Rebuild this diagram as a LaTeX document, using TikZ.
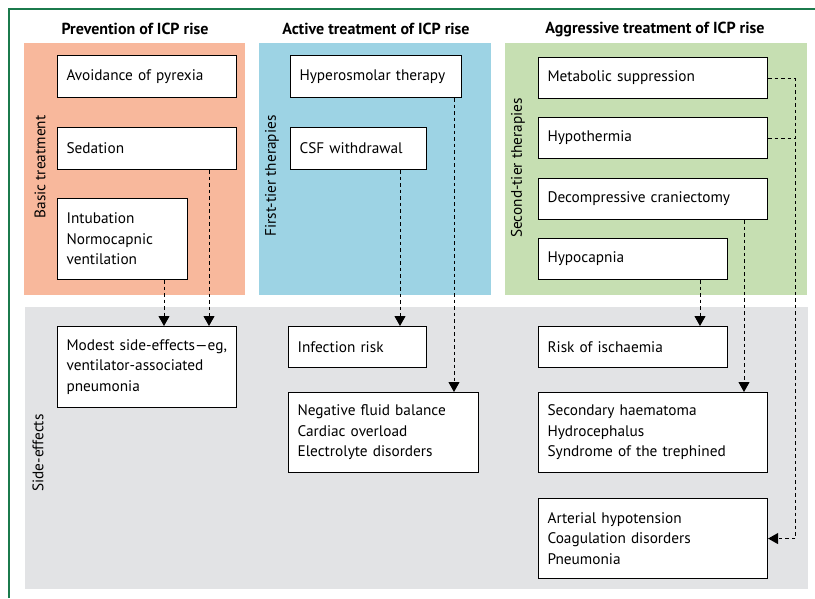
\documentclass[tikz,border=0pt]{standalone}
\usepackage{fontspec}
\setmainfont{PT Sans}
\usepackage{tikz}
\usetikzlibrary{arrows.meta, calc}

\definecolor{prevcol}{HTML}{F8B89C}
\definecolor{activecol}{HTML}{9DD3E4}
\definecolor{aggrcol}{HTML}{C6DFB2}
\definecolor{sidecol}{HTML}{E2E3E5}
\definecolor{framecol}{HTML}{1B7A4C}

\begin{document}
\begin{tikzpicture}[x=1pt, y=-1pt,
    box/.style={draw, fill=white, line width=1.1pt, anchor=north west, align=left,
                inner xsep=9pt, inner ysep=0pt,
                font=\fontsize{15.3}{20.5}\selectfont},
    title/.style={font=\bfseries\fontsize{16}{18}\selectfont},
    side/.style={rotate=90, font=\fontsize{15.3}{17}\selectfont},
    arr/.style={line width=1pt, dash pattern=on 3.5pt off 3pt,
                -{Triangle[width=11pt, length=10pt]}},
    dline/.style={line width=1pt, dash pattern=on 3.5pt off 3pt}]
\useasboundingbox (0,0) rectangle (815,598);

% frame and panels
\draw[framecol, line width=1.2pt] (9,598) -- (9,9) -- (815,9);
\fill[prevcol]   (24,43)  rectangle (245,295);
\fill[activecol] (259,43) rectangle (491,295);
\fill[aggrcol]   (505,43) rectangle (807,295);
\fill[sidecol]   (25,307) rectangle (808,589);

% headings
\node[title] at (135,29) (prevt)  {Prevention of ICP rise};
\node[title] at (376,29) (activet) {Active treatment of ICP rise};
\node[title] at (655,29) (aggrt)  {Aggressive treatment of ICP rise};

\node[side] at (40,167)  (basic)  {Basic treatment};
\node[side] at (272,176) (first)  {First-tier therapies};
\node[side] at (518,168) (second) {Second-tier therapies};
\node[side] at (38,453)  (sidel)  {Side-effects};

% prevention
\node[box, text width=161, minimum height=42] at (57,55)  (pyrexia) {Avoidance of pyrexia};
\node[box, text width=161, minimum height=42] at (57,127) (sedation) {Sedation};
\node[box, text width=112, minimum height=81] at (57,198) (intub) {Intubation\\Normocapnic\\ventilation};

% active treatment
\node[box, text width=153, minimum height=42] at (290,55)  (hyperos) {Hyperosmolar therapy};
\node[box, text width=118, minimum height=42] at (290,127) (csf) {CSF withdrawal};

% aggressive treatment
\node[box, text width=211, minimum height=41] at (538,57)  (metab) {Metabolic suppression};
\node[box, text width=211, minimum height=41] at (538,117) (hypoth) {Hypothermia};
\node[box, text width=211, minimum height=41] at (538,178) (decomp) {Decompressive craniectomy};
\node[box, text width=171, minimum height=41] at (538,238) (hypocap) {Hypocapnia};

% side-effects
\node[box, text width=161, minimum height=81] at (57,326)  (modest) {Modest side-effects---eg,\\ventilator-associated\\pneumonia};
\node[box, text width=120, minimum height=41] at (288,326) (infect) {Infection risk};
\node[box, text width=172, minimum height=80] at (288,392) (fluid) {Negative fluid balance\\Cardiac overload\\Electrolyte disorders};
\node[box, text width=171, minimum height=41] at (538,326) (ischaem) {Risk of ischaemia};
\node[box, text width=211, minimum height=80] at (538,392) (haemat) {Secondary haematoma\\Hydrocephalus\\Syndrome of the trephined};
\node[box, text width=211, minimum height=80] at (538,498) (arter) {Arterial hypotension\\Coagulation disorders\\Pneumonia};

% arrows
\draw[arr] (intub.south -| 164,0) -- (modest.north -| 164,0);
\draw[arr] (sedation.south -| 209,0) -- (modest.north -| 209,0);
\draw[arr] (csf.south -| 400,0) -- (infect.north -| 400,0);
\draw[arr] (hyperos.south -| 454,0) -- (fluid.north -| 454,0);
\draw[arr] (hypocap.south -| 700,0) -- (ischaem.north -| 700,0);
\draw[arr] (decomp.south -| 744,0) -- (haemat.north -| 744,0);
\draw[arr] (metab.east) -- ++(27,0) |- (arter.east);
\draw[dline] (hypoth.east) -- ++(27,0);
\end{tikzpicture}
\end{document}
